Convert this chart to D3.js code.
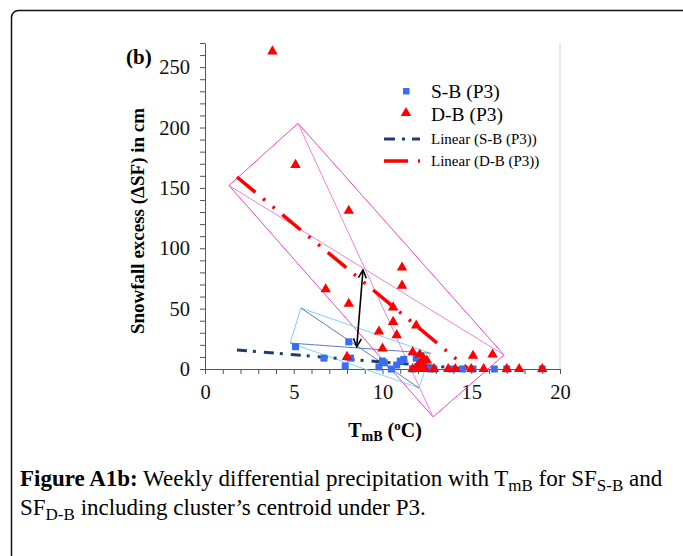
<!DOCTYPE html>
<html lang="en">
<head>
  <meta charset="UTF-8">
  <title>Figure A1b - Snowfall excess vs TmB</title>
  <script src="https://d3js.org/d3.v7.min.js"></script>
  <style>
    body {
      margin: 0;
      background: #fff;
    }
    svg {
      display: block;
      font-family: "Liberation Serif", "Times New Roman", serif;
    }
    .axis path,
    .axis line {
      stroke: #555;
    }
    .axis text {
      fill: #111;
      font-size: 20.5px;
      font-family: "Liberation Serif", serif;
    }
  </style>
</head>
<body>
  <div id="chart"></div>

  <script>
    // weekly points: [TmB (degC), snowfall excess (cm)]
    const sbPoints = [
      [5.1, 18.4], [6.7, 9], [7.9, 2.5], [8.1, 22.5], [8.2, 9], [9.8, 1.7],
      [10.0, 6.6], [10.1, 5.2], [10.5, 0], [10.8, 3.3], [11.0, 6.6], [11.2, 8],
      [11.7, 0], [11.9, 9], [12.1, 5.8], [12.4, 5.8], [12.2, 1], [12.7, 0],
      [12.9, 0], [13.9, 0], [14.5, 0], [15.1, 0], [16.3, 0], [17.0, 0], [19.0, 0]
    ];
    const dbPoints = [
      [3.8, 263], [5.1, 169], [6.8, 66], [8.1, 131], [8.1, 54], [8.0, 10],
      [9.8, 31], [10.0, 17], [10.6, 51], [10.6, 39], [10.8, 28], [11.1, 84],
      [11.1, 69], [11.9, 36], [11.7, 14], [12.1, 12], [12.3, 9], [12.5, 7],
      [12.0, 3], [12.2, 4], [11.7, 0], [12.0, 0], [12.4, 0], [12.9, 0],
      [13.7, 0], [14.1, 0], [15.0, 0], [15.1, 11], [15.7, 0], [16.2, 12],
      [17.0, 0], [17.7, 0], [19.0, 0]
    ];

    // linear trends: [slope, intercept, xStart, xEnd]
    const sbTrend = [-1.21, 17.9, 1.8, 14.6];
    const dbTrend = [-12.2, 181, 1.8, 14.8];

    // cluster boxes (corner points) and the centroid arrow
    const dbBox = [[1.35, 152], [5.24, 203.5], [16.85, 11.6], [12.85, -39.7]];
    const sbBox = [[5.4, 50.5], [4.8, 21.5], [12.06, -15.7], [12.7, 13]];
    const centroidArrow = [[8.9, 82], [8.55, 18.5]];

    const xTicks = [0, 5, 10, 15, 20];
    const yTicks = [0, 50, 100, 150, 200, 250];

    const width = 683;
    const height = 556;
    const plot = { left: 205, right: 560, top: 43, bottom: 369 };

    const x = d3.scaleLinear().domain([0, 20]).range([plot.left, plot.right]);
    const y = d3.scaleLinear().domain([0, 270]).range([plot.bottom, plot.top]);

    const svg = d3.select("#chart")
      .append("svg")
      .attr("width", width)
      .attr("height", height)
      .attr("viewBox", [0, 0, width, height]);

    // outer figure frame (runs off the right and bottom edges)
    svg.append("rect")
      .attr("x", 11.5).attr("y", 10.5)
      .attr("width", 720).attr("height", 600)
      .attr("rx", 7)
      .attr("fill", "none")
      .attr("stroke", "#111")
      .attr("stroke-width", 1.5);

    // right border of the plot area
    svg.append("line")
      .attr("x1", plot.right).attr("x2", plot.right)
      .attr("y1", plot.top).attr("y2", plot.bottom)
      .attr("stroke", "#d4d4d4");

    // axes
    svg.append("g")
      .attr("class", "axis")
      .attr("transform", `translate(0,${plot.bottom})`)
      .call(d3.axisBottom(x).tickValues(d3.range(0, 21, 1)).tickSize(5).tickSizeOuter(0).tickFormat(""));
    svg.append("g")
      .attr("class", "axis")
      .attr("transform", `translate(0,${plot.bottom})`)
      .call(d3.axisBottom(x).tickValues(xTicks).tickSize(0).tickPadding(15))
      .call(g => g.select(".domain").remove());

    svg.append("g")
      .attr("class", "axis")
      .attr("transform", `translate(${plot.left},0)`)
      .call(d3.axisLeft(y).tickValues(d3.range(0, 271, 10)).tickSize(5).tickSizeOuter(0).tickFormat(""));
    svg.append("g")
      .attr("class", "axis")
      .attr("transform", `translate(${plot.left},0)`)
      .call(d3.axisLeft(y).tickValues(yTicks).tickSize(0).tickPadding(15))
      .call(g => g.select(".domain").remove());

    // cluster boxes
    const boxLine = d3.line().x(d => x(d[0])).y(d => y(d[1]));
    function drawBox(pts, edge, diag) {
      svg.append("path")
        .attr("d", boxLine(pts) + "Z")
        .attr("fill", "none")
        .attr("stroke", edge)
        .attr("stroke-width", 1);
      [[pts[0], pts[2]], [pts[1], pts[3]]].forEach(seg => {
        svg.append("path")
          .attr("d", boxLine(seg))
          .attr("fill", "none")
          .attr("stroke", diag)
          .attr("stroke-width", 1);
      });
    }
    drawBox(dbBox, "#ee44cc", "#f080dd");
    drawBox(sbBox, "#7fd3f5", "#5a7fb8");

    // trend lines
    function trend(t) {
      return [[t[2], t[0] * t[2] + t[1]], [t[3], t[0] * t[3] + t[1]]];
    }
    svg.append("path")
      .attr("d", boxLine(trend(dbTrend)))
      .attr("fill", "none")
      .attr("stroke", "#ff0000")
      .attr("stroke-width", 3.5)
      .attr("stroke-dasharray", "24 10 2.5 10 2.5 10");
    svg.append("path")
      .attr("d", boxLine(trend(sbTrend)))
      .attr("fill", "none")
      .attr("stroke", "#1f3e6e")
      .attr("stroke-width", 3)
      .attr("stroke-dasharray", "10 6 3 8");

    // centroid arrow
    svg.append("defs").append("marker")
      .attr("id", "vhead")
      .attr("viewBox", "0 0 10 10")
      .attr("refX", 9).attr("refY", 5)
      .attr("markerWidth", 10).attr("markerHeight", 10)
      .attr("markerUnits", "userSpaceOnUse")
      .attr("orient", "auto-start-reverse")
      .append("path")
      .attr("d", "M1,1L9,5L1,9")
      .attr("fill", "none")
      .attr("stroke", "#000")
      .attr("stroke-width", 1.6);
    svg.append("path")
      .attr("d", boxLine(centroidArrow))
      .attr("stroke", "#000")
      .attr("stroke-width", 1.6)
      .attr("marker-start", "url(#vhead)")
      .attr("marker-end", "url(#vhead)");

    // points
    const sq = 7;
    const tri = d3.symbol().type(d3.symbolTriangle).size(48);
    svg.append("g")
      .selectAll("rect")
      .data(sbPoints)
      .join("rect")
      .attr("x", d => x(d[0]) - sq / 2)
      .attr("y", d => y(d[1]) - sq / 2)
      .attr("width", sq).attr("height", sq)
      .attr("fill", "#3a6ef2");
    svg.append("g")
      .selectAll("path")
      .data(dbPoints)
      .join("path")
      .attr("transform", d => `translate(${x(d[0])},${y(d[1])})`)
      .attr("d", tri)
      .attr("fill", "#ff0000");

    // legend
    const lg = svg.append("g").attr("transform", "translate(384,0)");
    lg.append("rect").attr("x", 19).attr("y", 88).attr("width", 6.5).attr("height", 6.5).attr("fill", "#3a6ef2");
    lg.append("text").attr("x", 47).attr("y", 98).attr("font-size", 19.5).text("S-B (P3)");
    lg.append("path").attr("transform", "translate(22,113)").attr("d", tri).attr("fill", "#ff0000");
    lg.append("text").attr("x", 47).attr("y", 121).attr("font-size", 19.5).text("D-B (P3)");
    lg.append("line").attr("x1", 0).attr("x2", 36).attr("y1", 139).attr("y2", 139)
      .attr("stroke", "#1f3e6e").attr("stroke-width", 3).attr("stroke-dasharray", "11 7 3 7");
    lg.append("text").attr("x", 47).attr("y", 144).attr("font-size", 15).text("Linear (S-B (P3))");
    lg.append("line").attr("x1", 0).attr("x2", 36).attr("y1", 161).attr("y2", 161)
      .attr("stroke", "#ff0000").attr("stroke-width", 3.5).attr("stroke-dasharray", "24 10 2.5 10");
    lg.append("text").attr("x", 47).attr("y", 166).attr("font-size", 15).text("Linear (D-B (P3))");

    // panel label and axis titles
    svg.append("text").attr("x", 126).attr("y", 64)
      .attr("font-size", 21).attr("font-weight", "bold").text("(b)");

    svg.append("text")
      .attr("transform", "translate(144,221) rotate(-90)")
      .attr("text-anchor", "middle")
      .attr("font-size", 19)
      .attr("font-weight", "bold")
      .text("Snowfall excess (\u0394SF) in cm");

    const xt = svg.append("text")
      .attr("x", 385).attr("y", 437)
      .attr("text-anchor", "middle")
      .attr("font-size", 20)
      .attr("font-weight", "bold");
    xt.append("tspan").text("T");
    xt.append("tspan").attr("dy", 4).attr("font-size", 14).text("mB");
    xt.append("tspan").attr("dy", -4).text(" (");
    xt.append("tspan").attr("dy", -7).attr("font-size", 13).text("o");
    xt.append("tspan").attr("dy", 7).text("C)");

    // caption
    const cap1 = svg.append("text").attr("x", 20).attr("y", 486).attr("font-size", 23);
    cap1.append("tspan").attr("font-weight", "bold").text("Figure A1b:");
    cap1.append("tspan").text(" Weekly differential precipitation with T");
    cap1.append("tspan").attr("dy", 5).attr("font-size", 17).text("mB");
    cap1.append("tspan").attr("dy", -5).text(" for SF");
    cap1.append("tspan").attr("dy", 5).attr("font-size", 17).text("S-B");
    cap1.append("tspan").attr("dy", -5).text(" and");

    const cap2 = svg.append("text").attr("x", 20).attr("y", 515).attr("font-size", 23);
    cap2.append("tspan").text("SF");
    cap2.append("tspan").attr("dy", 5).attr("font-size", 17).text("D-B");
    cap2.append("tspan").attr("dy", -5).text(" including cluster\u2019s centroid under P3.");
  </script>
</body>
</html>
